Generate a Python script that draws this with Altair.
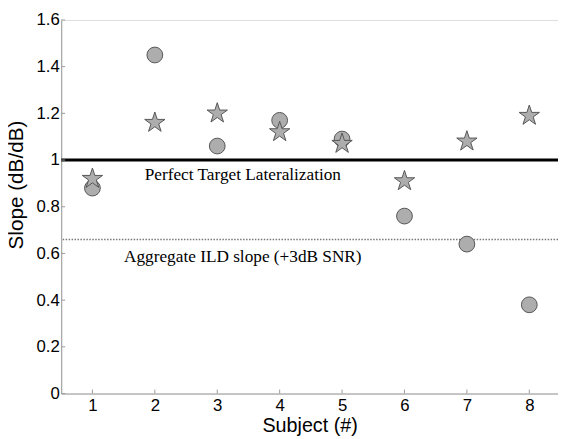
import math
import altair as alt
import pandas as pd

# ---- data ----
subjects = [1, 2, 3, 4, 5, 6, 7, 8]
circle_slopes = [0.88, 1.45, 1.06, 1.17, 1.09, 0.76, 0.64, 0.38]
star_slopes = [0.92, 1.16, 1.20, 1.12, 1.07, 0.91, 1.08, 1.19]
perfect_line = [1.0]
aggregate_line = [0.66]
y_ticks = [0, 0.2, 0.4, 0.6, 0.8, 1.0, 1.2, 1.4, 1.6]
x_ticks = subjects
annotations = ["Perfect Target Lateralization", "Aggregate ILD slope (+3dB SNR)"]
annot_x = [3.41, 3.41]
annot_y = [0.915, 0.565]

W, H = 504, 379
XDOM = [0.5, 8.46]
YDOM = [0, 1.6]

# five-pointed star path (unit radius)
pts = []
for k in range(10):
    r = 1.0 if k % 2 == 0 else 0.382
    a = math.radians(-90 + 36 * k)
    pts.append(f"{r*math.cos(a):.4f},{r*math.sin(a):.4f}")
STAR = "M" + " L".join(pts) + " Z"

pts_df = pd.DataFrame({"subject": subjects, "circle": circle_slopes, "star": star_slopes})

xs = alt.Scale(domain=XDOM, nice=False, zero=False)
ys = alt.Scale(domain=YDOM, nice=False, zero=True)

SANS = "Liberation Sans"
xaxis = alt.Axis(values=x_ticks, format="d", grid=False, ticks=False, domainColor="#9a9a9a",
                 labelFont=SANS, labelFontSize=17, labelColor="black", labelPadding=4,
                 title="Subject (#)", titleFont=SANS, titleFontSize=20,
                 titleFontWeight="normal", titleColor="black", titleY=39, titleBaseline="alphabetic")
yaxis = alt.Axis(values=y_ticks, format=".1~f", grid=False, ticks=False, domainColor="#9a9a9a",
                 labelFont=SANS, labelFontSize=17, labelColor="black", labelPadding=2,
                 title="Slope (dB/dB)", titleFont=SANS, titleFontSize=21,
                 titleFontWeight="normal", titleColor="black", titleAngle=-90,
                 titleX=-45, titleY=167, titleAlign="center", titleBaseline="middle")

base = alt.Chart(pts_df)

axes_layer = base.mark_point(opacity=0).encode(
    x=alt.X("subject:Q", scale=xs, axis=xaxis),
    y=alt.Y("circle:Q", scale=ys, axis=yaxis),
)

perfect = alt.Chart(pd.DataFrame({"v": perfect_line})).mark_rule(color="black", strokeWidth=3).encode(
    y=alt.Y("v:Q", scale=ys)
)
aggregate = alt.Chart(pd.DataFrame({"v": aggregate_line})).mark_rule(
    color="#777777", strokeWidth=1.5, strokeDash=[1.5, 1.5]
).encode(y=alt.Y("v:Q", scale=ys))

texts = alt.Chart(pd.DataFrame({"t": annotations, "x": annot_x, "y": annot_y})).mark_text(
    font="Liberation Serif", fontSize=17.5, color="black", align="center", baseline="alphabetic"
).encode(x=alt.X("x:Q", scale=xs), y=alt.Y("y:Q", scale=ys), text="t:N")

circles = base.mark_point(shape="circle", filled=True, size=256, fill="#adadad",
                          stroke="#555555", strokeWidth=1, opacity=1).encode(
    x=alt.X("subject:Q", scale=xs), y=alt.Y("circle:Q", scale=ys)
)
stars = base.mark_point(shape=STAR, filled=True, size=470, fill="#adadad",
                        stroke="#555555", strokeWidth=1, opacity=1).encode(
    x=alt.X("subject:Q", scale=xs), y=alt.Y("star:Q", scale=ys)
)

ytick_layer = alt.Chart(pd.DataFrame({"v": y_ticks})).mark_rule(color="#9a9a9a").encode(
    y=alt.Y("v:Q", scale=ys), x=alt.value(0), x2=alt.value(4)
)
xtick_layer = alt.Chart(pd.DataFrame({"v": x_ticks})).mark_rule(color="#9a9a9a").encode(
    x=alt.X("v:Q", scale=xs), y=alt.value(H), y2=alt.value(H - 4)
)

chart = alt.layer(axes_layer, aggregate, perfect, texts, circles, stars, ytick_layer, xtick_layer).properties(
    width=W, height=H,
    autosize=alt.AutoSizeParams(type="none"),
    padding={"left": 54, "top": 9, "right": 0, "bottom": 44},
).configure_view(stroke=None).configure(background="white")

chart.save("out.html", embed_options={"renderer": "svg", "actions": False})
